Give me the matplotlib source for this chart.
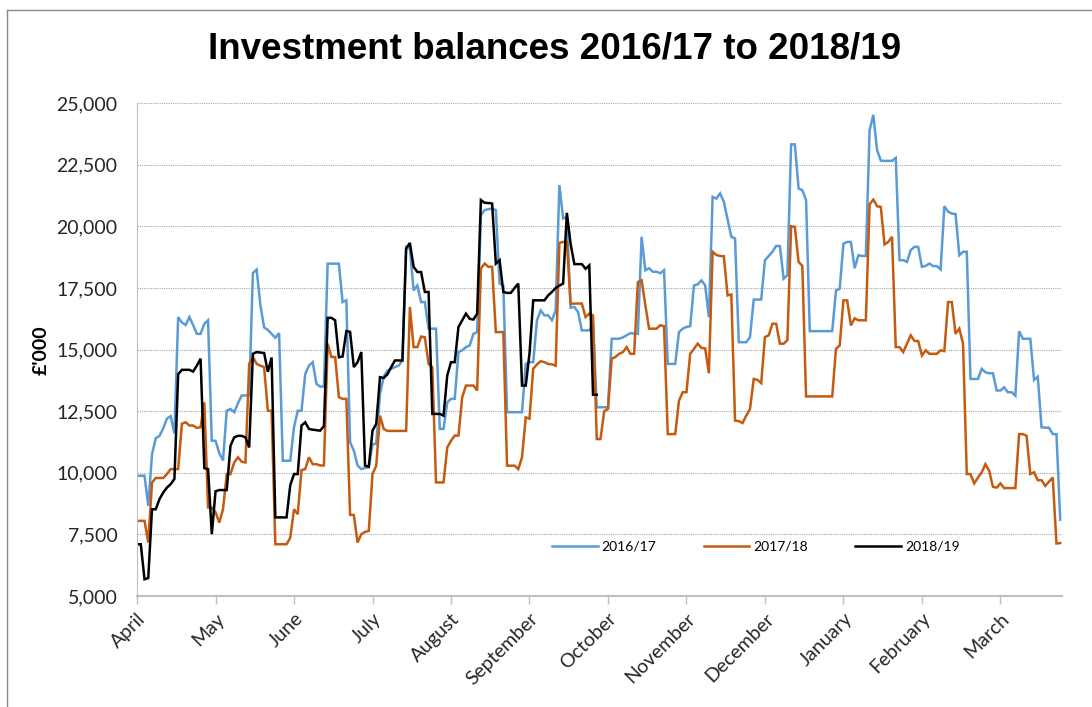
import numpy as np
import matplotlib.pyplot as plt
from matplotlib.lines import Line2D
from matplotlib.ticker import FuncFormatter, MultipleLocator

# Daily balances (£'000), one value per working day from April
bal_2016_17 = [
    9880, 9880, 9880, 8660, 10750, 11400, 11500, 11800, 12200, 12300,
    11600, 16320, 16100, 16000, 16320, 16000, 15640, 15640, 16050, 16190,
    11300, 11300, 10800, 10500, 12520, 12590, 12460, 12820, 13140, 13140,
    13140, 18110, 18250, 16800, 15900, 15800, 15640, 15480, 15670, 10490,
    10490, 10490, 11850, 12520, 12520, 14010, 14350, 14490, 13610, 13500,
    13500, 18490, 18490, 18490, 18490, 16930, 17000, 11240, 10900, 10300,
    10150, 10200, 10220, 11170, 11170, 13200, 13900, 14150, 14220, 14290,
    14350, 14560, 19170, 19100, 17400, 17600, 16930, 16930, 15850, 15850,
    15850, 11780, 11780, 12860, 13000, 13000, 14900, 14970, 15100, 15170,
    15640, 15710, 20460, 20660, 20700, 20730, 20660, 17680, 17610, 12460,
    12460, 12460, 12460, 12460, 14420, 14490, 14490, 16190, 16590, 16390,
    16390, 16190, 16590, 21680, 20320, 20390, 16700, 16730, 16520, 15780,
    15780, 15780, 16050, 12660, 12660, 12660, 12660, 15440, 15440, 15440,
    15500, 15580, 15670, 15650, 15640, 19580, 18220, 18300, 18160, 18160,
    18100, 18220, 14420, 14420, 14420, 15710, 15850, 15920, 15950, 17600,
    17650, 17810, 17610, 16320, 21200, 21130, 21340, 21000, 20300, 19580,
    19510, 15300, 15300, 15300, 15510, 17030, 17030, 17030, 18630, 18800,
    18970, 19210, 19200, 17880, 18020, 23330, 23330, 21540, 21470, 21070,
    15750, 15750, 15750, 15750, 15750, 15750, 15750, 17400, 17470, 19300,
    19370, 19370, 18300, 18830, 18800, 18800, 23900, 24530, 23100, 22670,
    22660, 22660, 22660, 22780, 18630, 18630, 18560, 19040, 19170, 19170,
    18360, 18400, 18490, 18390, 18390, 18250, 20820, 20600, 20520, 20500,
    18830, 18970, 18970, 13810, 13810, 13810, 14220, 14080, 14040, 14040,
    13340, 13340, 13470, 13270, 13270, 13130, 15750, 15440, 15440, 15440,
    13770, 13900, 11850, 11830, 11830, 11570, 11570, 8100,
]

bal_2017_18 = [
    8050, 8050, 8050, 7170, 9600, 9790, 9790, 9790, 9950, 10150,
    10150, 10150, 11990, 12050, 11920, 11920, 11820, 11850, 12860, 8590,
    8590, 8400, 7980, 8520, 9950, 9950, 10420, 10630, 10450, 10420,
    14420, 14700, 14420, 14350, 14290, 12520, 12520, 7100, 7100, 7100,
    7100, 7370, 8520, 8320, 10110, 10150, 10630, 10350, 10350, 10300,
    10300, 15240, 14700, 14700, 13070, 13000, 13000, 8290, 8290, 7170,
    7510, 7600, 7640, 9950, 10290, 12320, 11780, 11700, 11700, 11700,
    11700, 11700, 11700, 16730, 15100, 15100, 15530, 15500, 14420, 14290,
    9610, 9610, 9610, 11030, 11300, 11510, 11510, 13070, 13540, 13540,
    13540, 13340, 18290, 18490, 18360, 18360, 15710, 15710, 15710, 10290,
    10290, 10290, 10150, 10630, 12250, 12200, 14220, 14400, 14530, 14490,
    14420, 14400, 14350, 19330, 19370, 19370, 16860, 16870, 16870, 16870,
    16320, 16460, 16390, 11370, 11370, 12500, 12590, 14630, 14700, 14830,
    14900, 15100, 14830, 14830, 17740, 17810, 16800, 15850, 15850, 15850,
    15990, 15950, 11570, 11570, 11570, 12930, 13270, 13270, 14830, 15030,
    15240, 15070, 15050, 14040, 18970, 18840, 18800, 18790, 17200, 17240,
    12120, 12100, 12020, 12320, 12590, 13810, 13770, 13640, 15510, 15580,
    16050, 16050, 15240, 15240, 15380, 20010, 19980, 18560, 18400, 13100,
    13100, 13100, 13100, 13100, 13100, 13100, 13100, 15030, 15170, 17000,
    17000, 15980, 16270, 16190, 16190, 16190, 20900, 21090, 20820, 20790,
    19270, 19370, 19580, 15100, 15100, 14900, 15240, 15580, 15350, 15350,
    14760, 14970, 14830, 14830, 14830, 14970, 14940, 16930, 16930, 15640,
    15850, 15240, 9950, 9950, 9570, 9810, 10020, 10350, 10080, 9430,
    9400, 9570, 9380, 9380, 9380, 9380, 11570, 11570, 11500, 9950,
    10020, 9700, 9700, 9470, 9640, 9810, 7130, 7150,
]

bal_2018_19 = [
    7100, 7100, 5680, 5730, 8520, 8520, 8930, 9200, 9400, 9540,
    9750, 14000, 14180, 14180, 14180, 14110, 14350, 14630, 10190, 10150,
    7510, 9250, 9300, 9300, 9300, 11100, 11440, 11500, 11500, 11440,
    11030, 14830, 14900, 14880, 14860, 14100, 14680, 8190, 8190, 8190,
    8190, 9500, 9950, 9950, 11920, 12050, 11780, 11750, 11730, 11710,
    11900, 16290, 16290, 16190, 14690, 14720, 15750, 15720, 14290, 14490,
    14900, 10290, 10250, 11710, 11990, 13880, 13850, 14000, 14290, 14560,
    14560, 14560, 19100, 19330, 18360, 18150, 18150, 17340, 17340, 12390,
    12390, 12390, 12320, 13950, 14490, 14490, 15920, 16190, 16460, 16250,
    16220, 16460, 21070, 20960, 20950, 20930, 18490, 18630, 17340, 17300,
    17300, 17500, 17680, 13540, 13540, 14830, 17000, 17000, 17000, 17000,
    17200, 17340, 17500, 17600, 17680, 20550, 19300, 18470, 18470, 18470,
    18280, 18420, 13170, 13170,
]

months = ['April', 'May', 'June', 'July', 'August', 'September', 'October',
          'November', 'December', 'January', 'February', 'March']
series_names = ['2016/17', '2017/18', '2018/19']
series_colors = ['#5B9BD5', '#C55A11', '#000000']

days_per_tick = 21  # category axis, month label every 21 working days

fig = plt.figure(figsize=(10.92, 7.07), dpi=100)
ax = fig.add_axes([0.1255, 0.157, 0.8471, 0.697])

for vals, name, col in zip([bal_2016_17, bal_2017_18, bal_2018_19], series_names, series_colors):
    ax.plot(np.arange(len(vals)), vals, color=col, lw=1.8, label=name,
            solid_joinstyle='miter')

ax.set_xlim(0, len(bal_2016_17) - 0.5)
ax.set_ylim(5000, 25000)
ax.yaxis.set_major_locator(MultipleLocator(2500))
ax.yaxis.set_major_formatter(FuncFormatter(lambda v, p: f'{int(v):,}'))
ax.set_xticks([i * days_per_tick for i in range(len(months))])
ax.set_xticklabels(months, rotation=45, ha='right', rotation_mode='anchor',
                   fontsize=14, family='Lato', color='#262626')

ax.grid(axis='y', color='#A6A6A6', lw=0.8, ls=(0, (1, 1)))
ax.set_axisbelow(True)
for s in ['top', 'right']:
    ax.spines[s].set_visible(False)
ax.spines['left'].set_color('#BFBFBF')
ax.spines['bottom'].set_color('#BFBFBF')
ax.spines['bottom'].set_linewidth(1.5)
ax.tick_params(axis='y', length=0, pad=14, labelsize=14, labelcolor='#262626')
ax.tick_params(axis='x', length=6, width=1, color='#BFBFBF', pad=4)
for lab in ax.get_yticklabels():
    lab.set_family('Lato')

fig.text(0.508, 1 - 49 / 707, 'Investment balances 2016/17 to 2018/19',
         ha='center', va='center', fontsize=26.5, fontweight='bold',
         family='Liberation Sans')
fig.text(41 / 1092, 1 - 350 / 707, "£'000", rotation=90, ha='center', va='center',
         fontsize=14, fontweight='bold', family='Lato')

ax.legend(loc='center', bbox_to_anchor=(0.669, 0.100), ncol=3, frameon=False,
          prop={'family': 'Lato', 'size': 10}, handlelength=3.3,
          handletextpad=0.3, columnspacing=3.4)

# chart frame (top and left edges visible in the crop)
fig.add_artist(Line2D([7.3 / 1092, 7.3 / 1092], [0, 1 - 9.5 / 707], color='#8C8C8C', lw=1))
fig.add_artist(Line2D([7.3 / 1092, 1], [1 - 9.5 / 707, 1 - 9.5 / 707], color='#8C8C8C', lw=1))

fig.savefig('out.png', dpi=100)
